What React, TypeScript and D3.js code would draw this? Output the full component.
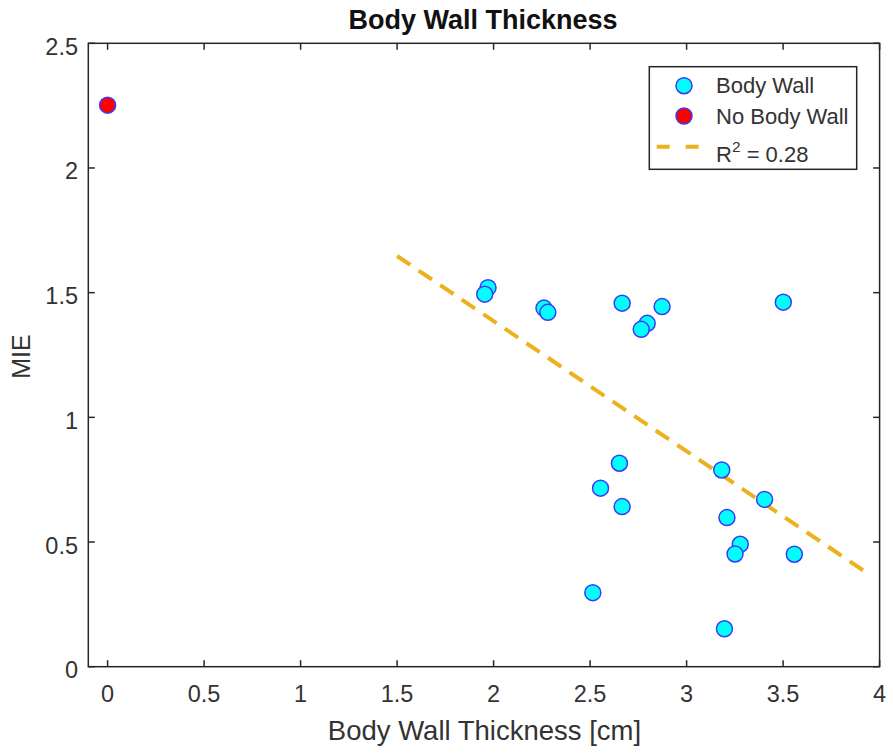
import React from "react";
import * as d3 from "d3";

// Data
const bodyWallX = [1.971, 1.954, 2.261, 2.281, 2.666, 2.873, 2.796, 2.765, 2.652, 2.554, 2.666, 3.182, 3.404, 3.209, 3.278, 3.251, 3.558, 2.514, 3.196, 3.501];
const bodyWallY = [1.520, 1.494, 1.438, 1.421, 1.458, 1.444, 1.377, 1.353, 0.816, 0.716, 0.642, 0.789, 0.671, 0.598, 0.491, 0.452, 0.451, 0.297, 0.152, 1.462];
const noBodyWallX = [0];
const noBodyWallY = [2.252];
const fitX = [1.5, 3.95];
const fitY = [1.647, 0.368];
const xTicks = [0, 0.5, 1, 1.5, 2, 2.5, 3, 3.5, 4];
const yTicks = [0, 0.5, 1, 1.5, 2, 2.5];

const W = 893;
const H = 753;
const left = 88.3;
const right = 879.6;
const top = 43.3;
const bottom = 666.7;

export default function App() {
  const x = d3.scaleLinear().domain([-0.1, 4]).range([left, right]);
  const y = d3.scaleLinear().domain([0, 2.5]).range([bottom, top]);
  const axisColor = "#262626";
  const labelColor = "#333333";
  const font = "Liberation Sans, Arial, sans-serif";
  const cyan = "#00ffff";
  const red = "#ff0000";
  const edge = "#3b3bf5";
  const lineColor = "#edb120";
  const r = 8;
  const line = d3
    .line<number>()
    .x((d, i) => x(fitX[i]))
    .y((d, i) => y(fitY[i]));
  const tickLen = 6.5;

  return (
    <svg
      width={W}
      height={H}
      style={{ position: "absolute", left: 0, top: 0, background: "#fff" }}
      fontFamily={font}
    >
      <rect x={0} y={0} width={W} height={H} fill="#fff" />
      {/* Ticks */}
      {xTicks.map((t) => (
        <g key={"xt" + t}>
          <line x1={x(t)} x2={x(t)} y1={bottom} y2={bottom - tickLen} stroke={axisColor} strokeWidth={1.5} />
          <line x1={x(t)} x2={x(t)} y1={top} y2={top + tickLen} stroke={axisColor} strokeWidth={1.5} />
          <text x={x(t)} y={702} textAnchor="middle" fontSize={23.5} fill={labelColor}>
            {String(t)}
          </text>
        </g>
      ))}
      {yTicks.map((t) => (
        <g key={"yt" + t}>
          <line x1={left} x2={left + tickLen} y1={y(t)} y2={y(t)} stroke={axisColor} strokeWidth={1.5} />
          <line x1={right} x2={right - tickLen} y1={y(t)} y2={y(t)} stroke={axisColor} strokeWidth={1.5} />
          <text x={78} y={y(t) + 11.5} textAnchor="end" fontSize={23.5} fill={labelColor}>
            {String(t)}
          </text>
        </g>
      ))}
      {/* Box */}
      <rect x={left} y={top} width={right - left} height={bottom - top} fill="none" stroke={axisColor} strokeWidth={1.5} />

      {/* Fit line */}
      <path
        d={line(fitX) || ""}
        fill="none"
        stroke={lineColor}
        strokeWidth={4}
        strokeDasharray="16 10"
      />

      {/* Points */}
      {bodyWallX.map((v, i) => (
        <circle key={"b" + i} cx={x(v)} cy={y(bodyWallY[i])} r={r} fill={cyan} stroke={edge} strokeWidth={1.5} />
      ))}
      {noBodyWallX.map((v, i) => (
        <circle key={"n" + i} cx={x(v)} cy={y(noBodyWallY[i])} r={r} fill={red} stroke={edge} strokeWidth={1.5} />
      ))}

      {/* Title */}
      <text x={483} y={29} textAnchor="middle" fontSize={27} fontWeight="bold" fill="#111">
        Body Wall Thickness
      </text>
      {/* Axis labels */}
      <text x={484.5} y={740} textAnchor="middle" fontSize={27.5} fill={labelColor}>
        Body Wall Thickness [cm]
      </text>
      <text
        transform={`translate(30, ${(top + bottom) / 2 + 1.5}) rotate(-90)`}
        textAnchor="middle"
        fontSize={25}
        fill={labelColor}
      >
        MIE
      </text>

      {/* Legend */}
      <rect x={649.3} y={66.7} width={207.4} height={102.6} fill="#fff" stroke={axisColor} strokeWidth={1.5} />
      <circle cx={684} cy={85.7} r={r} fill={cyan} stroke={edge} strokeWidth={1.5} />
      <text x={716} y={85.5} dominantBaseline="central" fontSize={22} fill={labelColor}>
        Body Wall
      </text>
      <circle cx={684} cy={116} r={r} fill={red} stroke={edge} strokeWidth={1.5} />
      <text x={716} y={116} dominantBaseline="central" fontSize={22} fill={labelColor}>
        No Body Wall
      </text>
      <line x1={656.7} x2={700} y1={146.7} y2={146.7} stroke={lineColor} strokeWidth={4} strokeDasharray="13 16" />
      <text x={716} y={161.5} fontSize={22} fill={labelColor}>
        R
        <tspan fontSize={15.5} dy={-10}>2</tspan>
        <tspan dy={10}> = 0.28</tspan>
      </text>
    </svg>
  );
}
